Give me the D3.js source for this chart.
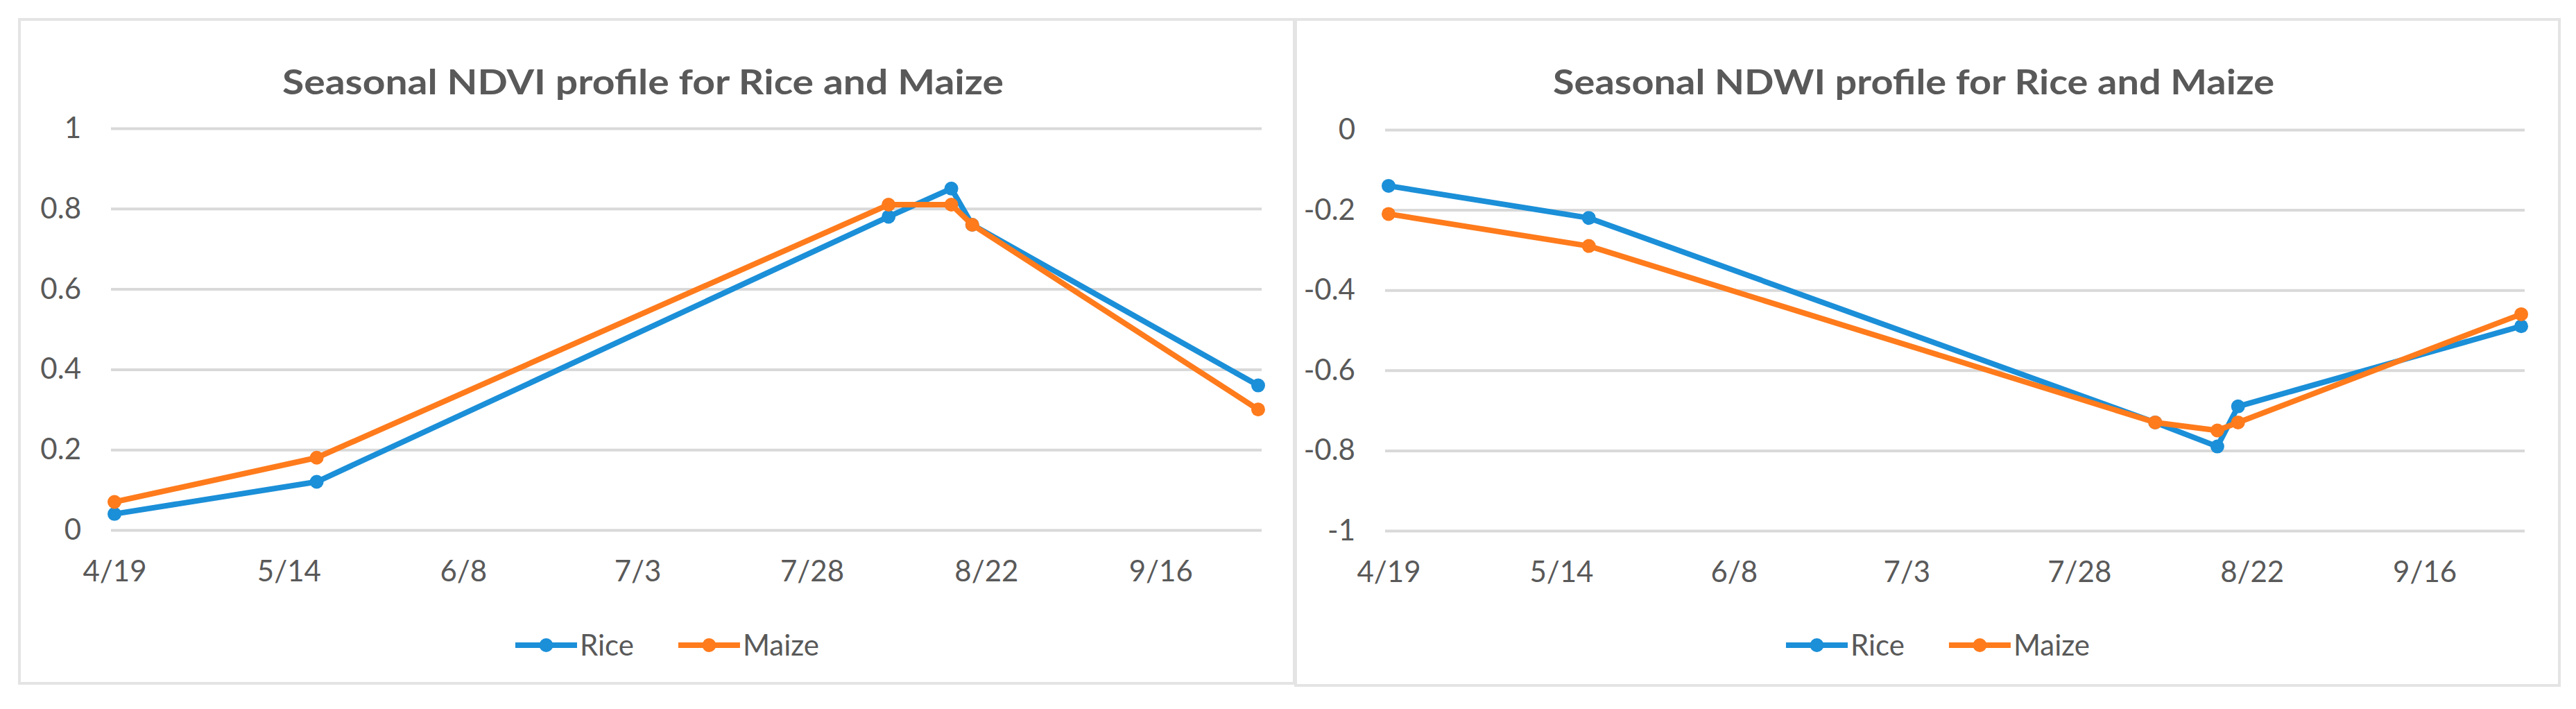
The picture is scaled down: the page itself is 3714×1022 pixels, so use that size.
<!DOCTYPE html>
<html>
<head>
<meta charset="utf-8">
<script src="https://cdn.jsdelivr.net/npm/d3@7"></script>
<style>
  body { margin: 0; background: #fff; }
  text { font-family: Lato, "Open Sans", sans-serif; fill: #595959; }
</style>
</head>
<body>
<div id="charts"></div>
<script>
// Observation dates (same for both indices)
let obsDates = ["2018-04-19", "2018-05-18", "2018-08-08", "2018-08-17", "2018-08-20", "2018-09-30"];

// NDVI series
let ndviRice = [0.04, 0.12, 0.78, 0.85, 0.76, 0.36];
let ndviMaize = [0.07, 0.18, 0.81, 0.81, 0.76, 0.30];

// NDWI series
let ndwiRice = [-0.14, -0.22, -0.73, -0.79, -0.69, -0.49];
let ndwiMaize = [-0.21, -0.29, -0.73, -0.75, -0.73, -0.46];

// Axis ticks
let xTickDates = ["2018-04-19", "2018-05-14", "2018-06-08", "2018-07-03", "2018-07-28", "2018-08-22", "2018-09-16"];
let ndviTicks = [0, 0.2, 0.4, 0.6, 0.8, 1];
let ndwiTicks = [-1, -0.8, -0.6, -0.4, -0.2, 0];

let seriesNames = ["Rice", "Maize"];
let seriesColors = ["#1b8fd8", "#ff7b1c"];

let svgWidth = 3714;
let svgHeight = 1022;

let parseDate = d3.timeParse("%Y-%m-%d");
let fmtDate = d3.timeFormat("%-m/%-d");
let fmtNum = d => String(+d.toFixed(1));

let svg = d3.select("#charts")
    .append("svg")
    .attr("width", svgWidth)
    .attr("height", svgHeight);

// half a day of padding on each end, like an Excel date axis
let xDomain = [d3.timeHour.offset(parseDate(obsDates[0]), -12),
               d3.timeHour.offset(parseDate(obsDates[obsDates.length - 1]), 12)];

function drawChart(cfg) {
    let g = svg.append("g");

    // chart border
    g.append("rect")
        .attr("x", cfg.box.x0)
        .attr("y", cfg.box.y0)
        .attr("width", cfg.box.x1 - cfg.box.x0)
        .attr("height", cfg.box.y1 - cfg.box.y0)
        .attr("fill", "#fff")
        .attr("stroke", "#e4e4e4")
        .attr("stroke-width", 4);

    let xScale = d3.scaleTime()
        .domain(xDomain)
        .range([cfg.plot.left, cfg.plot.right]);

    let yScale = d3.scaleLinear()
        .domain(d3.extent(cfg.yTicks))
        .range([cfg.plot.bottom, cfg.plot.top]);

    // gridlines + y labels
    let leftAxis = d3.axisLeft(yScale)
        .tickValues(cfg.yTicks)
        .tickFormat(fmtNum)
        .tickSize(-(cfg.plot.right - cfg.plot.left))
        .tickPadding(43);

    let yAxis = g.append("g")
        .attr("transform", `translate(${cfg.plot.left}, 0)`)
        .call(leftAxis);
    yAxis.select(".domain").remove();
    yAxis.selectAll("line")
        .attr("stroke", "#d9d9d9")
        .attr("stroke-width", 4);
    yAxis.selectAll("text")
        .attr("font-size", 42)
        .attr("fill", "#595959");

    // date labels
    let bottomAxis = d3.axisBottom(xScale)
        .tickValues(xTickDates.map(parseDate))
        .tickFormat(fmtDate)
        .tickSize(0)
        .tickPadding(44);

    let xAxis = g.append("g")
        .attr("transform", `translate(0, ${cfg.plot.bottom})`)
        .call(bottomAxis);
    xAxis.select(".domain").remove();
    xAxis.selectAll("text")
        .attr("font-size", 42)
        .attr("fill", "#595959");

    // lines and markers
    let line = d3.line()
        .x((d, i) => xScale(parseDate(obsDates[i])))
        .y(d => yScale(d));

    cfg.series.forEach((values, s) => {
        g.append("path")
            .datum(values)
            .attr("d", line)
            .attr("fill", "none")
            .attr("stroke", seriesColors[s])
            .attr("stroke-width", 8)
            .attr("stroke-linejoin", "round");

        g.append("g")
            .selectAll("circle")
            .data(values)
            .join("circle")
            .attr("cx", (d, i) => xScale(parseDate(obsDates[i])))
            .attr("cy", d => yScale(d))
            .attr("r", 10)
            .attr("fill", seriesColors[s]);
    });

    let boxCenter = (cfg.box.x0 + cfg.box.x1) / 2;

    // title
    g.append("text")
        .attr("x", boxCenter - 20)
        .attr("y", 136)
        .attr("text-anchor", "middle")
        .attr("font-size", 49)
        .attr("font-weight", "bold")
        .attr("textLength", 1040)
        .attr("lengthAdjust", "spacingAndGlyphs")
        .text(cfg.title);

    // legend
    let legend = g.append("g");
    let cursor = 0;
    seriesNames.forEach((name, s) => {
        let item = legend.append("g").attr("transform", `translate(${cursor}, 0)`);
        item.append("line")
            .attr("x1", 0).attr("x2", 89)
            .attr("stroke", seriesColors[s])
            .attr("stroke-width", 8);
        item.append("circle")
            .attr("cx", 44.5)
            .attr("r", 10)
            .attr("fill", seriesColors[s]);
        let label = item.append("text")
            .attr("x", 93)
            .attr("dy", "0.35em")
            .attr("font-size", 42)
            .text(name);
        cursor += 93 + label.node().getComputedTextLength() + 64;
    });
    let legendWidth = cursor - 64;
    legend.attr("transform", `translate(${boxCenter + 15 - legendWidth / 2}, 930)`);
}

drawChart({
    title: "Seasonal NDVI profile for Rice and Maize",
    box: { x0: 28, y0: 28, x1: 1866, y1: 985 },
    plot: { left: 160, right: 1819, top: 185, bottom: 764 },
    yTicks: ndviTicks,
    series: [ndviRice, ndviMaize]
});

drawChart({
    title: "Seasonal NDWI profile for Rice and Maize",
    box: { x0: 1868, y0: 28, x1: 3690, y1: 988 },
    plot: { left: 1997, right: 3640, top: 187, bottom: 765 },
    yTicks: ndwiTicks,
    series: [ndwiRice, ndwiMaize]
});
</script>
</body>
</html>
